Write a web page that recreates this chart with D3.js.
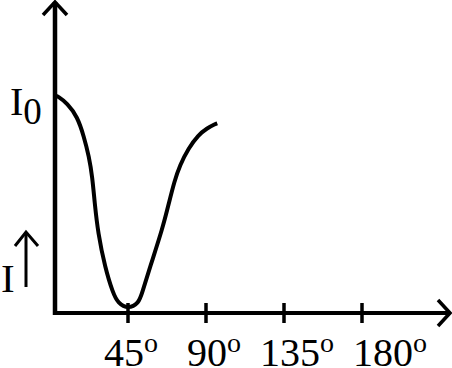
<!DOCTYPE html>
<html>
<head>
<meta charset="utf-8">
<script src="https://cdn.jsdelivr.net/npm/d3@7"></script>
<style>
    body { margin: 0; background: #fff; }
    svg { display: block; }
    text { font-family: "Liberation Serif", "Times New Roman", serif; fill: #000; }
</style>
</head>
<body>
<svg id="chart" width="452" height="368"></svg>
<script>
// values (angle in degrees, intensity as fraction of I0)
var angles = [3.5, 4.5, 10.0, 15.8, 19.6, 22.5, 24.4, 25.8, 27.7, 31.7, 36.3, 39.2, 45,
              51.3, 53.1, 57.7, 65.0, 68.8, 71.7, 75.0, 79.8, 85.6, 90.4, 95.5, 96.5];
var intensity = [1.0, 0.999, 0.966, 0.903, 0.809, 0.715, 0.621, 0.496, 0.357, 0.197, 0.075, 0.028, 0,
                 0.028, 0.075, 0.197, 0.379, 0.504, 0.598, 0.676, 0.754, 0.817, 0.848, 0.869, 0.872];
var tickAngles = [45, 90, 135, 180];
var tickLabels = ["45", "90", "135", "180"];
var yTopLabel = "I";
var yTopSub = "0";
var yAxisLabel = "I";

// layout only: labels are hand placed in the original, nudge them a bit
var labelShift = [-24, -19, -24, -9];

var svg = d3.select("#chart");

var x = d3.scaleLinear().domain([0, 180]).range([50, 362]);
var y = d3.scaleLinear().domain([0, 1]).range([309, 96]);

var originX = 55, originY = 313;

// axes
svg.append("line")
    .attr("x1", originX).attr("y1", 2)
    .attr("x2", originX).attr("y2", originY + 2)
    .attr("stroke", "#000").attr("stroke-width", 4.5);
svg.append("line")
    .attr("x1", originX - 2).attr("y1", originY)
    .attr("x2", 449).attr("y2", originY)
    .attr("stroke", "#000").attr("stroke-width", 4);

// arrow heads
svg.append("path")
    .attr("d", "M43,15 L55,2 L67,15")
    .attr("fill", "none").attr("stroke", "#000").attr("stroke-width", 3.5);
svg.append("path")
    .attr("d", "M438,300 L450,313 L438,326")
    .attr("fill", "none").attr("stroke", "#000").attr("stroke-width", 3.5);

// ticks
svg.selectAll(".tick")
    .data(tickAngles)
    .enter().append("line")
    .attr("class", "tick")
    .attr("x1", function (d) { return x(d); })
    .attr("x2", function (d) { return x(d); })
    .attr("y1", originY - 10)
    .attr("y2", originY + 10)
    .attr("stroke", "#000").attr("stroke-width", 3.5);

// tick labels with raised "o" for degrees
var lbl = svg.selectAll(".tlabel")
    .data(tickAngles)
    .enter().append("text")
    .attr("class", "tlabel")
    .attr("x", function (d, i) { return x(d) + labelShift[i]; })
    .attr("y", 366)
    .attr("font-size", 40);
lbl.append("tspan").text(function (d, i) { return tickLabels[i]; });
lbl.append("tspan").attr("font-size", 28).attr("dy", -14).text("o");

// I0 label
var i0 = svg.append("text").attr("x", 10).attr("y", 115).attr("font-size", 40);
i0.append("tspan").text(yTopLabel);
i0.append("tspan").attr("font-size", 37).attr("dy", 9).text(yTopSub);

// I with arrow
svg.append("text").attr("x", 1).attr("y", 292).attr("font-size", 41).text(yAxisLabel);
svg.append("line")
    .attr("x1", 26).attr("y1", 233).attr("x2", 26).attr("y2", 287)
    .attr("stroke", "#000").attr("stroke-width", 3);
svg.append("path")
    .attr("d", "M15,246 L26,232 L38,246")
    .attr("fill", "none").attr("stroke", "#000").attr("stroke-width", 3);

// intensity curve, smoothed through the read points
var pts = angles.map(function (a, i) { return [a, intensity[i]]; });
var line = d3.line()
    .x(function (d) { return x(d[0]); })
    .y(function (d) { return y(d[1]); })
    .curve(d3.curveBasis);

svg.append("path")
    .datum(pts)
    .attr("d", line)
    .attr("fill", "none")
    .attr("stroke", "#000")
    .attr("stroke-width", 4);
</script>
</body>
</html>
